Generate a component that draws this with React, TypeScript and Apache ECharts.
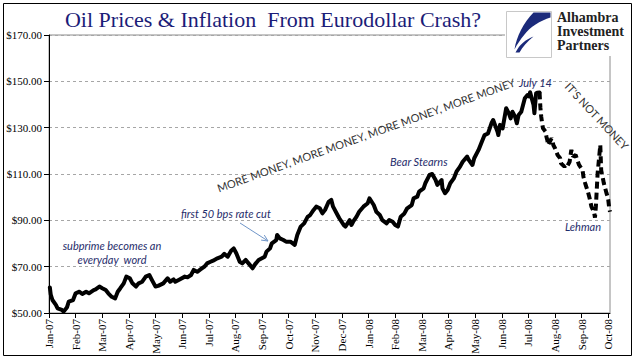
import React, { useEffect, useRef } from 'react';
import * as echarts from 'echarts';

const monthLabels = ['Jan-07', 'Feb-07', 'Mar-07', 'Apr-07', 'May-07', 'Jun-07', 'Jul-07', 'Aug-07', 'Sep-07', 'Oct-07', 'Nov-07', 'Dec-07', 'Jan-08', 'Feb-08', 'Mar-08', 'Apr-08', 'May-08', 'Jun-08', 'Jul-08', 'Aug-08', 'Sep-08', 'Oct-08'];

const Y_MIN = 50;
const Y_MAX = 170;
const Y_STEP = 20;

const dates = [
  '2007-01-02', '2007-01-03', '2007-01-05', '2007-01-09', '2007-01-11', '2007-01-16', '2007-01-18', '2007-01-22', '2007-01-24', '2007-01-29',
  '2007-02-01', '2007-02-05', '2007-02-08', '2007-02-12', '2007-02-15', '2007-02-20', '2007-02-22', '2007-02-26',
  '2007-03-01', '2007-03-05', '2007-03-08', '2007-03-12', '2007-03-16', '2007-03-19', '2007-03-22', '2007-03-26', '2007-03-29',
  '2007-04-02', '2007-04-05', '2007-04-09', '2007-04-12', '2007-04-16', '2007-04-20', '2007-04-24', '2007-04-27',
  '2007-05-01', '2007-05-04', '2007-05-10', '2007-05-15', '2007-05-18', '2007-05-22', '2007-05-24', '2007-05-29',
  '2007-06-04', '2007-06-07', '2007-06-11', '2007-06-14', '2007-06-18', '2007-06-22', '2007-06-26', '2007-06-29',
  '2007-07-03', '2007-07-06', '2007-07-11', '2007-07-16', '2007-07-19', '2007-07-23', '2007-07-27', '2007-07-30',
  '2007-08-02', '2007-08-06', '2007-08-09', '2007-08-13', '2007-08-17', '2007-08-21', '2007-08-24', '2007-08-28',
  '2007-09-04', '2007-09-06', '2007-09-10', '2007-09-12', '2007-09-17', '2007-09-18', '2007-09-21', '2007-09-25', '2007-09-28',
  '2007-10-03', '2007-10-08', '2007-10-11', '2007-10-15', '2007-10-19', '2007-10-23', '2007-10-26', '2007-10-30',
  '2007-11-02', '2007-11-06', '2007-11-09', '2007-11-12', '2007-11-16', '2007-11-19', '2007-11-21', '2007-11-26', '2007-11-28',
  '2007-12-03', '2007-12-05', '2007-12-10', '2007-12-12', '2007-12-14', '2007-12-18', '2007-12-21', '2007-12-26', '2007-12-31',
  '2008-01-02', '2008-01-07', '2008-01-10', '2008-01-14', '2008-01-17', '2008-01-22', '2008-01-25', '2008-01-29',
  '2008-02-01', '2008-02-04', '2008-02-07', '2008-02-11', '2008-02-14', '2008-02-19', '2008-02-21', '2008-02-25', '2008-02-27',
  '2008-03-03', '2008-03-05', '2008-03-10', '2008-03-13', '2008-03-17', '2008-03-19', '2008-03-24', '2008-03-25', '2008-03-28', '2008-03-31',
  '2008-04-03', '2008-04-07', '2008-04-10', '2008-04-14', '2008-04-17', '2008-04-22', '2008-04-24', '2008-04-28', '2008-04-30',
  '2008-05-05', '2008-05-08', '2008-05-12', '2008-05-16', '2008-05-20', '2008-05-22', '2008-05-27', '2008-05-28', '2008-05-30',
  '2008-06-02', '2008-06-06', '2008-06-09', '2008-06-11', '2008-06-13', '2008-06-16', '2008-06-18', '2008-06-20', '2008-06-23', '2008-06-25', '2008-06-27', '2008-06-30',
  '2008-07-02', '2008-07-03', '2008-07-07', '2008-07-08', '2008-07-10', '2008-07-11', '2008-07-14',
  '2008-07-15', '2008-07-16', '2008-07-17', '2008-07-18', '2008-07-21', '2008-07-22', '2008-07-23', '2008-07-24', '2008-07-25', '2008-07-28', '2008-07-29', '2008-07-30',
  '2008-08-01', '2008-08-04', '2008-08-07', '2008-08-08', '2008-08-12', '2008-08-14', '2008-08-15', '2008-08-18', '2008-08-20', '2008-08-22', '2008-08-25', '2008-08-27', '2008-08-29',
  '2008-09-02', '2008-09-03', '2008-09-05', '2008-09-08', '2008-09-10', '2008-09-12', '2008-09-15', '2008-09-16', '2008-09-17', '2008-09-18', '2008-09-19', '2008-09-22',
  '2008-09-23', '2008-09-24', '2008-09-25', '2008-09-26', '2008-09-29', '2008-09-30', '2008-10-01', '2008-10-02', '2008-10-03',
];

const prices = [
  61.0, 58.0, 55.6, 53.5, 52.0, 51.3, 50.6, 52.5, 54.9, 55.6,
  58.5, 59.2, 58.2, 59.2, 58.5, 59.9, 60.2, 61.4,
  60.7, 59.9, 58.5, 57.0, 56.3, 59.2, 60.7, 62.8, 65.7,
  65.0, 62.8, 61.4, 62.8, 63.5, 65.7, 66.4, 64.2,
  61.4, 61.7, 62.8, 65.0, 63.5, 64.5, 63.5, 64.5,
  65.7, 65.4, 66.4, 68.6, 67.8, 68.9, 70.0, 71.4,
  72.1, 72.6, 73.6, 74.3, 75.5, 74.3, 76.9, 77.9,
  75.8, 72.1, 71.4, 72.9, 71.1, 69.3, 71.1, 72.9,
  74.3, 76.5, 77.9, 80.1, 81.5, 83.7, 82.2, 81.5, 80.8,
  80.8, 79.4, 83.7, 87.3, 88.7, 91.5, 92.3, 94.5,
  95.9, 95.2, 93.0, 94.5, 98.0, 98.8, 95.9, 92.3, 90.9,
  88.0, 87.3, 90.1, 88.0, 89.4, 91.6, 93.7, 95.9, 97.4,
  99.5, 96.6, 93.7, 92.3, 90.1, 88.7, 90.1, 89.4,
  88.0, 87.3, 91.6, 93.0, 95.2, 96.6, 99.5, 100.2, 102.4,
  103.8, 106.0, 109.6, 110.0, 107.4, 105.3, 107.4, 103.8, 101.7, 103.1,
  106.0, 108.1, 111.0, 113.2, 115.3, 117.5, 116.0, 113.9, 116.8,
  120.4, 123.2, 126.8, 127.5, 131.9, 133.3, 128.3, 126.8, 131.2,
  129.7, 138.4, 136.2, 134.0, 136.9, 134.7, 131.9, 135.5, 136.9, 139.8, 142.7, 144.1,
  143.5, 145.3, 139.8, 136.2, 144.8, 145.1, 145.2,
  138.5, 134.6, 131.9, 129.7, 128.3, 126.1, 124.7, 122.5, 123.3, 125.4, 124.7, 122.5,
  121.1, 118.2, 116.8, 114.6, 113.2, 113.9, 113.2, 115.3, 120.4, 117.5, 118.2, 116.0, 113.9,
  111.7, 108.8, 106.0, 102.4, 99.5, 95.9, 93.5, 91.2, 95.9, 103.1, 110.3, 122.5,
  111.7, 109.6, 108.0, 106.0, 101.7, 100.6, 98.8, 95.5, 93.7,
];

const DASH_FROM = '2008-07-14';
const AXIS_END = '2008-10-03';

const TITLE = 'Oil Prices & Inflation  From Eurodollar Crash?';
const LOGO_LINES = ['Alhambra', 'Investment', 'Partners'];

function monthPos(d: string): number {
  const [y, m, day] = d.split('-').map(Number);
  const dim = new Date(y, m, 0).getDate();
  return (y - 2007) * 12 + (m - 1) + (day - 1) / dim;
}

const LOGO_PATH = 'M27 1 L44 1 L44 6 C34 9 23 16 18 23 C14 28 11 32 8 38 C10 25 17 11 27 1 Z';
const LOGO_PATH2 = 'M9 41 C13 33 19 28 27 25 C21 30 16 35 13 41 Z';

let registered = false;
function registerLogo() {
  if (registered) return;
  registered = true;
  echarts.graphic.registerShape('logoSwoosh', echarts.graphic.extendPath(LOGO_PATH, {}));
  echarts.graphic.registerShape('logoSwoosh2', echarts.graphic.extendPath(LOGO_PATH2, {}));
}

export default function App() {
  const ref = useRef<HTMLDivElement>(null);

  useEffect(() => {
    if (!ref.current) return;
    registerLogo();
    const chart = echarts.init(ref.current, null, { renderer: 'svg' });

    const solid: [number, number][] = [];
    const dashed: [number, number][] = [];
    dates.forEach((d, i) => {
      const pt: [number, number] = [monthPos(d), prices[i]];
      if (d <= DASH_FROM) solid.push(pt);
      if (d >= DASH_FROM) dashed.push(pt);
    });
    const tickVals = monthLabels.map((_, i) => i);

    const serif = "'Liberation Serif', 'Times New Roman', serif";
    const sans = "Lato, 'Open Sans', sans-serif";
    const note = '#1f2d6b';

    const option: any = {
      animation: false,
      grid: {
        left: 49, right: 31, top: 35, bottom: 48,
        show: true, borderColor: '#8c8c8c', borderWidth: 1,
        backgroundColor: 'transparent',
        containLabel: false, outerBoundsMode: 'none',
      },
      xAxis: {
        type: 'value', min: 0, max: monthPos(AXIS_END),
        axisLine: { show: true, lineStyle: { color: '#000', width: 1 } },
        axisTick: { show: true, length: 5, customValues: tickVals, lineStyle: { color: '#000' } },
        axisLabel: {
          customValues: tickVals, rotate: 90, margin: 6,
          formatter: (v: number) => monthLabels[Math.round(v)] ?? '',
          fontFamily: serif, fontSize: 11, color: '#000',
        },
        splitLine: { show: false },
      },
      yAxis: {
        type: 'value', min: Y_MIN, max: Y_MAX, interval: Y_STEP,
        axisLine: { show: true, lineStyle: { color: '#000', width: 1 } },
        axisTick: { show: true, length: 5, lineStyle: { color: '#000' } },
        axisLabel: {
          formatter: (v: number) => '$' + v.toFixed(2), margin: 7,
          fontFamily: serif, fontSize: 11, color: '#000',
        },
        splitLine: { show: true, lineStyle: { color: '#a6a6a6', type: [3, 3], width: 1 } },
      },
      series: [
        {
          type: 'line', data: solid, showSymbol: false, symbol: 'none',
          lineStyle: { color: '#000', width: 4, join: 'round', cap: 'round' },
          z: 3,
        },
        {
          type: 'line', data: dashed, showSymbol: false, symbol: 'none',
          lineStyle: { color: '#000', width: 4, type: [7, 4], cap: 'butt' },
          z: 3,
        },
      ],
      graphic: [
        { type: 'rect', shape: { x: 3.5, y: 3.5, width: 628, height: 352 }, style: { fill: 'none', stroke: '#000', lineWidth: 1 }, z: 100, silent: true },
        { type: 'text', x: 273, y: 19, style: { text: TITLE, font: `22px ${serif}`, fill: '#1c1c78', align: 'center', verticalAlign: 'middle' }, z: 50 },
        // logo
        { type: 'rect', shape: { x: 505, y: 6, width: 126, height: 50 }, style: { fill: '#fff' }, z: 40 },
        { type: 'rect', shape: { x: 506.5, y: 11.5, width: 45, height: 46 }, style: { fill: '#fff', stroke: '#c8c8c8', lineWidth: 1 }, z: 41 },
        { type: 'logoSwoosh', x: 506.5, y: 11.5, style: { fill: '#1b2a7a' }, z: 42 },
        { type: 'logoSwoosh2', x: 506.5, y: 11.5, style: { fill: '#1b2a7a' }, z: 42 },
        ...LOGO_LINES.map((t, i) => ({
          type: 'text', x: 557, y: 17 + i * 14,
          style: { text: t, font: `bold 14px ${serif}`, fill: '#222', align: 'left', verticalAlign: 'middle', lineHeight: 13 }, z: 43,
        })),
        // annotations
        { type: 'text', x: 112, y: 245, style: { text: 'subprime becomes an', font: `italic 11px ${sans}`, fill: note, align: 'center', verticalAlign: 'middle' }, z: 20 },
        { type: 'text', x: 112, y: 259, style: { text: 'everyday  word', font: `italic 11px ${sans}`, fill: note, align: 'center', verticalAlign: 'middle' }, z: 20 },
        { type: 'text', x: 181, y: 213, style: { text: 'first 50 bps rate cut', font: `italic 11px ${sans}`, fill: note, align: 'left', verticalAlign: 'middle' }, z: 20 },
        { type: 'line', shape: { x1: 240, y1: 223, x2: 268, y2: 241 }, style: { stroke: '#6f95c8', lineWidth: 1 }, z: 20 },
        { type: 'polyline', shape: { points: [[264.3, 235.1], [268, 241], [261.1, 240.1]] }, style: { stroke: '#6f95c8', lineWidth: 1, fill: 'none' }, z: 20 },
        { type: 'text', x: 390, y: 161, style: { text: 'Bear Stearns', font: `italic 11px ${sans}`, fill: note, align: 'left', verticalAlign: 'middle' }, z: 20 },
        { type: 'text', x: 519, y: 82, style: { text: 'July 14', font: `italic 11px ${sans}`, fill: note, align: 'left', verticalAlign: 'middle' }, z: 45 },
        { type: 'text', x: 565, y: 226, style: { text: 'Lehman', font: `italic 11px ${sans}`, fill: note, align: 'left', verticalAlign: 'middle' }, z: 20 },
        { type: 'text', x: 366, y: 135, rotation: 0.345, style: { text: 'MORE MONEY, MORE MONEY, MORE MONEY, MORE MONEY', font: `11px ${sans}`, fill: '#333', align: 'center', verticalAlign: 'middle' }, z: 20 },
        { type: 'text', x: 597, y: 116, rotation: -0.82, style: { text: "IT'S NOT MONEY", font: `11px ${sans}`, fill: '#333', align: 'center', verticalAlign: 'middle' }, z: 20 },
      ],
    };

    chart.setOption(option);
    return () => chart.dispose();
  }, []);

  return <div ref={ref} style={{ position: 'absolute', left: 0, top: 0, width: 641, height: 361 }} />;
}
